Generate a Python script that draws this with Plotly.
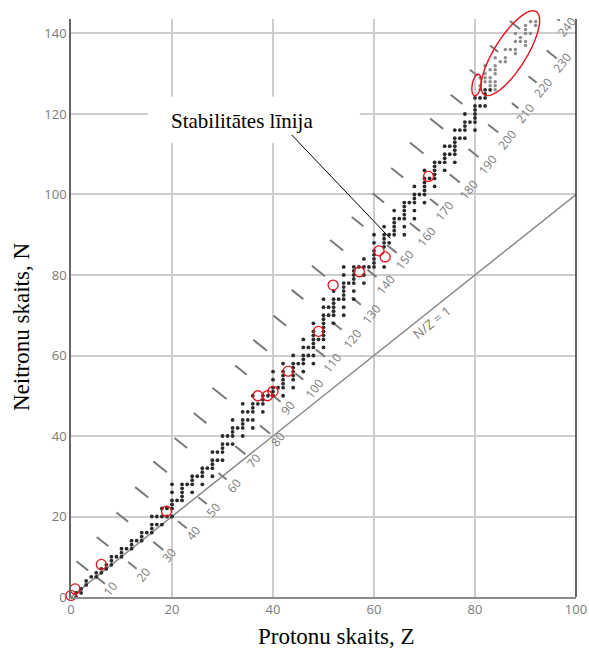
import numpy as np
import plotly.graph_objects as go

# ---------------- data ----------------
# stable nuclides: proton number Z -> neutron numbers N
stable = {
    1: [0, 1], 2: [1, 2], 3: [3, 4], 4: [5], 5: [5, 6], 6: [6, 7], 7: [7, 8],
    8: [8, 9, 10], 9: [10], 10: [10, 11, 12], 11: [12], 12: [12, 13, 14], 13: [14],
    14: [14, 15, 16], 15: [16], 16: [16, 17, 18, 20], 17: [18, 20], 18: [18, 20, 22],
    19: [20, 22], 20: [20, 22, 23, 24, 26, 28], 21: [24], 22: [24, 25, 26, 27, 28],
    23: [28], 24: [26, 28, 29, 30], 25: [30], 26: [28, 30, 31, 32], 27: [32],
    28: [30, 32, 33, 34, 36], 29: [34, 36], 30: [34, 36, 37, 38, 40], 31: [38, 40],
    32: [38, 40, 41, 42, 44], 33: [42], 34: [40, 42, 43, 44, 46, 48], 35: [44, 46],
    36: [42, 44, 46, 47, 48, 50], 37: [48], 38: [46, 48, 49, 50], 39: [50],
    40: [50, 51, 52, 54, 56], 41: [52], 42: [50, 52, 53, 54, 55, 56, 58],
    44: [52, 54, 55, 56, 57, 58, 60], 45: [58], 46: [56, 58, 59, 60, 62, 64],
    47: [60, 62], 48: [58, 60, 62, 63, 64, 65, 66, 68], 49: [64],
    50: [62, 64, 65, 66, 67, 68, 69, 70, 72, 74], 51: [70, 72],
    52: [68, 70, 71, 72, 73, 74, 76], 53: [74], 54: [70, 72, 74, 75, 76, 77, 78, 80, 82],
    55: [78], 56: [74, 76, 78, 79, 80, 81, 82], 57: [82], 58: [78, 80, 82, 84],
    59: [82], 60: [82, 83, 84, 85, 86, 88, 90], 62: [82, 87, 88, 89, 90, 92],
    63: [88, 90], 64: [90, 91, 92, 93, 94, 96], 65: [94], 66: [90, 92, 94, 95, 96, 97, 98],
    67: [98], 68: [94, 96, 98, 99, 100, 102], 69: [100], 70: [98, 100, 101, 102, 103, 104, 106],
    71: [104], 72: [102, 104, 105, 106, 107, 108], 73: [108], 74: [106, 108, 109, 110, 112],
    75: [110, 112], 76: [108, 110, 111, 112, 113, 114, 116], 77: [114, 116],
    78: [114, 116, 117, 118, 120], 79: [118], 80: [116, 118, 119, 120, 121, 122, 124],
    81: [122, 124], 82: [122, 124, 125, 126], 83: [126],
}
# long-lived heavy nuclides (grey dots)
heavy = {
    81: [126, 127, 129], 82: [128, 129, 130, 132], 83: [127, 128, 129, 131],
    84: [126, 127, 128, 130, 131, 132, 134], 85: [133], 86: [133, 134, 136], 87: [136],
    88: [135, 136, 138, 140], 89: [138, 139], 90: [137, 138, 140, 141, 142, 144],
    91: [140, 143], 92: [142, 143, 146],
}
# red circled nuclides
circled_Z = [0.0, 0.8, 6.0, 18.9, 37.0, 38.9, 40.0, 43.0, 49.0, 51.9, 57.1, 61.0, 62.2, 70.8]
circled_N = [0.4, 2.0, 8.1, 21.3, 50.0, 50.0, 51.1, 56.1, 66.0, 77.5, 80.8, 86.0, 84.5, 104.5]

# isobars Z + N = A : Z extents of the two dashes and of the label
isobar_A = [10, 20, 30, 40, 50, 60, 70, 80, 90, 100, 110, 120,
            130, 140, 150, 160, 170, 180, 190, 200, 210, 220, 230, 240]
upper_z0 = [1.1, 5.1, 9.0, 12.7, 16.3, 20.5, 24.3, 28.0, 32.5, 36.1, 40.1, 43.7,
            47.7, 51.3, 55.6, 59.7, 63.4, 67.1, 71.1, 75.2, 79.0, 83.0, 86.9, 91.0]
upper_z1 = [3.4, 7.4, 11.3, 15.3, 19.0, 23.0, 26.8, 30.8, 34.8, 38.8, 42.6, 46.0,
            50.3, 53.9, 57.9, 62.0, 65.8, 69.8, 73.7, 77.5, 80.5, 84.6, 88.9, 93.0]
lower_z0 = [5.1, 11.3, 16.3, 21.2, 25.2, 29.2, 32.5, 37.4, 39.7, 44.4, 48.5, 51.6,
            55.6, 58.7, 62.6, 67.1, 71.1, 75.0, 78.7, 82.6, 87.3, 90.6, 94.2, 95.0]
lower_z1 = [6.7, 13.0, 18.3, 22.9, 26.9, 30.8, 34.5, 39.4, 41.5, 46.0, 50.3, 53.6,
            57.4, 60.5, 64.5, 69.1, 72.7, 77.0, 80.7, 84.6, 88.6, 92.2, 96.2, 96.8]
label_z = [7.8, 14.3, 19.5, 24.1, 28.2, 32.3, 36.2, 40.9, 43.0, 48.2, 51.8, 55.8,
           59.6, 62.3, 66.1, 70.4, 74.0, 78.7, 82.5, 86.4, 89.9, 93.5, 97.3, 98.2]

x_ticks = [0, 20, 40, 60, 80, 100]
y_ticks = [0, 20, 40, 60, 80, 100, 120, 140]
X_RANGE = [0, 100]
Y_RANGE = [0, 143.6]

# ---------------- figure ----------------
W, H = 589, 649
PL, PR, PT, PB = 71, 576, 19, 597          # plot area in page pixels
ML, MT, MR, MB = PL, PT, W - PR, H - PB
PW, PH = PR - PL, PB - PT
sx = PW / (X_RANGE[1] - X_RANGE[0])
sy = PH / (Y_RANGE[1] - Y_RANGE[0])

RED = "#e3141c"
GREY_TXT = "#7a7a7a"

fig = go.Figure()

# N/Z = 1 line
fig.add_trace(go.Scatter(x=[0, 100], y=[0, 100], mode="lines",
                         line=dict(color="#8a8a8a", width=1.5), hoverinfo="skip"))

# isobar dashes
dx, dy = [], []
for A, a0, a1, b0, b1 in zip(isobar_A, upper_z0, upper_z1, lower_z0, lower_z1):
    for z0, z1 in ((a0, a1), (b0, b1)):
        dx += [z0, z1, None]
        dy += [A - z0, A - z1, None]
fig.add_trace(go.Scatter(x=dx, y=dy, mode="lines",
                         line=dict(color="#7a7a7a", width=2), hoverinfo="skip"))

# stable nuclides
sZ = [z for z, ns in stable.items() for n in ns]
sN = [n for z, ns in stable.items() for n in ns]
fig.add_trace(go.Scatter(x=sZ, y=sN, mode="markers",
                         marker=dict(size=3.8, color="#2a2a2a"), hoverinfo="skip"))
hZ = [z for z, ns in heavy.items() for n in ns]
hN = [n for z, ns in heavy.items() for n in ns]
fig.add_trace(go.Scatter(x=hZ, y=hN, mode="markers",
                         marker=dict(size=3.5, color="#8c8c8c"), hoverinfo="skip"))

# red circles
fig.add_trace(go.Scatter(x=circled_Z, y=circled_N, mode="markers", cliponaxis=False,
                         marker=dict(symbol="circle-open", size=10, color=RED,
                                     line=dict(color=RED, width=1.3)),
                         hoverinfo="skip"))

# isobar labels
for A, lz in zip(isobar_A, label_z):
    fig.add_annotation(x=lz, y=A - lz, xref="x", yref="y", text=str(A), showarrow=False,
                       textangle=-51.5, font=dict(family="Open Sans", size=12, color=GREY_TXT))

fig.add_annotation(x=71.5, y=68.3, xref="x", yref="y", text="N/Z = 1", showarrow=False,
                   textangle=-38.5, font=dict(family="Open Sans", size=13, color=GREY_TXT))


def ellipse_path(cz, cn, a_px, b_px, ang_deg):
    t = np.linspace(0, 2 * np.pi, 73)
    th = np.radians(ang_deg)
    ox = a_px * np.cos(t) * np.cos(th) - b_px * np.sin(t) * np.sin(th)
    oy = a_px * np.cos(t) * np.sin(th) + b_px * np.sin(t) * np.cos(th)
    zs = cz + ox / sx
    ps = (cn + oy / sy - Y_RANGE[0]) / (Y_RANGE[1] - Y_RANGE[0])
    pts = [f"{z:.3f},{p:.4f}" for z, p in zip(zs, ps)]
    return "M " + " L ".join(pts) + " Z"


fig.add_shape(type="path", xref="x", yref="paper", path=ellipse_path(87.0, 135.1, 49.0, 16.0, 58),
              line=dict(color=RED, width=1.4))
fig.add_shape(type="path", xref="x", yref="paper", path=ellipse_path(80.3, 127.2, 11.0, 4.3, 80),
              line=dict(color=RED, width=1.4))

# right border
fig.add_shape(type="line", xref="paper", yref="paper", x0=1, x1=1, y0=0, y1=1,
              line=dict(color="#333333", width=1.5))

# label of the stability line
fig.add_shape(type="rect", xref="x", yref="y", x0=15.2, x1=57.2, y0=112.8, y1=124.3,
              fillcolor="white", line=dict(width=0), layer="between")
fig.add_annotation(x=33.8, y=118.3, xref="x", yref="y", text="Stabilitātes līnija",
                   showarrow=False, font=dict(family="Liberation Serif", size=21, color="black"))
fig.add_shape(type="line", xref="x", yref="y", x0=43.7, y0=114.8, x1=63.2, y1=89.1,
              line=dict(color="black", width=1))

# axis titles (positions in page pixels converted to paper units)
fig.add_annotation(x=(336.5 - PL) / PW, y=(PB - 636) / PH, xref="paper", yref="paper",
                   xanchor="center", yanchor="middle", text="Protonu skaits, Z", showarrow=False,
                   font=dict(family="Liberation Serif", size=23, color="black"))
fig.add_annotation(x=(22 - PL) / PW, y=(PB - 327) / PH, xref="paper", yref="paper",
                   xanchor="center", yanchor="middle", text="Neitronu skaits, N",
                   textangle=-90, showarrow=False,
                   font=dict(family="Liberation Serif", size=23, color="black"))

axis_common = dict(showgrid=True, gridcolor="#cdcdcd", gridwidth=1.5, zeroline=False,
                   ticks="", showline=True, linewidth=1.5, automargin=False,
                   ticklabeloverflow="allow",
                   tickfont=dict(family="Open Sans", size=13, color=GREY_TXT))
fig.update_xaxes(range=X_RANGE, tickvals=x_ticks, linecolor="#8c8c8c", **axis_common)
fig.update_yaxes(range=Y_RANGE, tickvals=y_ticks, linecolor="#666666", **axis_common)

fig.update_layout(width=W, height=H, margin=dict(l=ML, r=MR, t=MT, b=MB),
                  plot_bgcolor="white", paper_bgcolor="white", showlegend=False)

# remove the default 8px page margin so the figure fills the window exactly
fig.write_html("out.html", config={"displayModeBar": False},
               post_script="document.body.style.margin='0';document.body.style.overflow='hidden';")
